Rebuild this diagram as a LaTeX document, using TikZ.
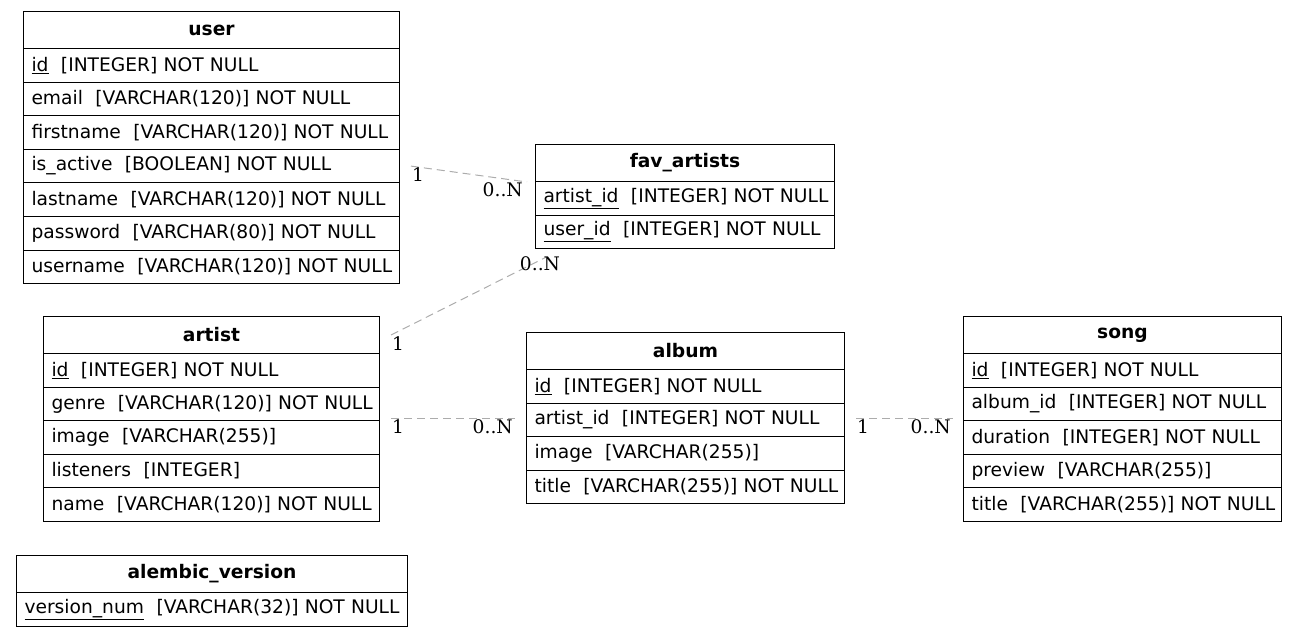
\documentclass[tikz,border=0pt]{standalone}
\usepackage{fontspec}
\setmainfont{DejaVu Sans}
\newfontfamily\lblfont{DejaVu Serif}
\begin{document}
\begin{tikzpicture}[x=1pt,y=-1pt,
  hdr/.style={draw, line width=1pt, anchor=north west, minimum width=#1, minimum height=37pt, inner sep=0pt, font=\fontsize{18.67}{22}\selectfont\bfseries},
  fld/.style={draw, line width=1pt, anchor=north west, minimum height=33.6pt, inner ysep=0pt, inner xsep=8pt, text width=#1, align=left, font=\fontsize{18.67}{22}\selectfont},
  rel/.style={draw=gray!65, dash pattern=on 8pt off 5pt, line width=1pt},
  card/.style={inner sep=0pt, font=\lblfont\fontsize{18.67}{22}\selectfont}]
\useasboundingbox (0,0) rectangle (1297,636);
% user
\node[hdr=376pt] (user-h) at (23,11) {user};
\node[fld=360pt] (user-f1) at (23,48) {\mbox{\underline{id}~~[INTEGER] NOT NULL}};
\node[fld=360pt] (user-f2) at (23,81.6) {\mbox{email~~[VARCHAR(120)] NOT NULL}};
\node[fld=360pt] (user-f3) at (23,115.2) {\mbox{firstname~~[VARCHAR(120)] NOT NULL}};
\node[fld=360pt] (user-f4) at (23,148.8) {\mbox{is\_active~~[BOOLEAN] NOT NULL}};
\node[fld=360pt] (user-f5) at (23,182.4) {\mbox{lastname~~[VARCHAR(120)] NOT NULL}};
\node[fld=360pt] (user-f6) at (23,216) {\mbox{password~~[VARCHAR(80)] NOT NULL}};
\node[fld=360pt] (user-f7) at (23,249.6) {\mbox{username~~[VARCHAR(120)] NOT NULL}};
% fav_artists
\node[hdr=299pt] (fav-h) at (535,144) {fav\_artists};
\node[fld=283pt] (fav-f1) at (535,181) {\mbox{\underline{artist\_id}~~[INTEGER] NOT NULL}};
\node[fld=283pt] (fav-f2) at (535,214.6) {\mbox{\underline{user\_id}~~[INTEGER] NOT NULL}};
% artist
\node[hdr=336pt] (artist-h) at (43,316) {artist};
\node[fld=320pt] (artist-f1) at (43,353) {\mbox{\underline{id}~~[INTEGER] NOT NULL}};
\node[fld=320pt] (artist-f2) at (43,386.6) {\mbox{genre~~[VARCHAR(120)] NOT NULL}};
\node[fld=320pt] (artist-f3) at (43,420.2) {\mbox{image~~[VARCHAR(255)]}};
\node[fld=320pt] (artist-f4) at (43,453.8) {\mbox{listeners~~[INTEGER]}};
\node[fld=320pt] (artist-f5) at (43,487.4) {\mbox{name~~[VARCHAR(120)] NOT NULL}};
% album
\node[hdr=318pt] (album-h) at (526,332) {album};
\node[fld=302pt] (album-f1) at (526,369) {\mbox{\underline{id}~~[INTEGER] NOT NULL}};
\node[fld=302pt] (album-f2) at (526,402.6) {\mbox{artist\_id~~[INTEGER] NOT NULL}};
\node[fld=302pt] (album-f3) at (526,436.2) {\mbox{image~~[VARCHAR(255)]}};
\node[fld=302pt] (album-f4) at (526,469.8) {\mbox{title~~[VARCHAR(255)] NOT NULL}};
% song
\node[hdr=318pt] (song-h) at (963,316) {song};
\node[fld=302pt] (song-f1) at (963,353) {\mbox{\underline{id}~~[INTEGER] NOT NULL}};
\node[fld=302pt] (song-f2) at (963,386.6) {\mbox{album\_id~~[INTEGER] NOT NULL}};
\node[fld=302pt] (song-f3) at (963,420.2) {\mbox{duration~~[INTEGER] NOT NULL}};
\node[fld=302pt] (song-f4) at (963,453.8) {\mbox{preview~~[VARCHAR(255)]}};
\node[fld=302pt] (song-f5) at (963,487.4) {\mbox{title~~[VARCHAR(255)] NOT NULL}};
% alembic_version
\node[hdr=391pt] (alembic-h) at (16,555) {alembic\_version};
\node[fld=375pt] (alembic-f1) at (16,592) {\mbox{\underline{version\_num}~~[VARCHAR(32)] NOT NULL}};
% connector end points
\path (user-f4.east) ++(11,0) coordinate (r1a);
\path (fav-h.south west) ++(-8,0) coordinate (r1b);
\path (artist-h.east) ++(11,0) coordinate (r2a);
\path (fav-f2.south west) ++(11,8) coordinate (r2b);
\path (artist-f2.east |- album-f2.west) ++(11,-1) coordinate (r3a);
\path (album-f2.west) ++(-11,-1) coordinate (r3b);
\path (album-f2.east) ++(11,-1) coordinate (r4a);
\path (song-h.west |- album-f2.east) ++(-10,-1) coordinate (r4b);
% connectors
\draw[rel] (r1a) -- (r1b);
\draw[rel] (r2a) -- (r2b);
\draw[rel] (r3a) -- (r3b);
\draw[rel] (r4a) -- (r4b);
% cardinalities
\node[card, anchor=north west] (c1a) at ([shift={(1,1)}]r1a) {1};
\node[card, anchor=north east] (c1b) at ([shift={(-4,0)}]r1b) {0..N};
\node[card, anchor=north west] (c2a) at ([shift={(1,1)}]r2a) {1};
\node[card, anchor=north] (c2b) at ([shift={(-6,-1)}]r2b) {0..N};
\node[card, anchor=north west] (c3a) at ([shift={(1,1)}]r3a) {1};
\node[card, anchor=north east] (c3b) at ([shift={(-2,1)}]r3b) {0..N};
\node[card, anchor=north west] (c4a) at ([shift={(1,1)}]r4a) {1};
\node[card, anchor=north east] (c4b) at ([shift={(-2,1)}]r4b) {0..N};
\end{tikzpicture}
\end{document}
